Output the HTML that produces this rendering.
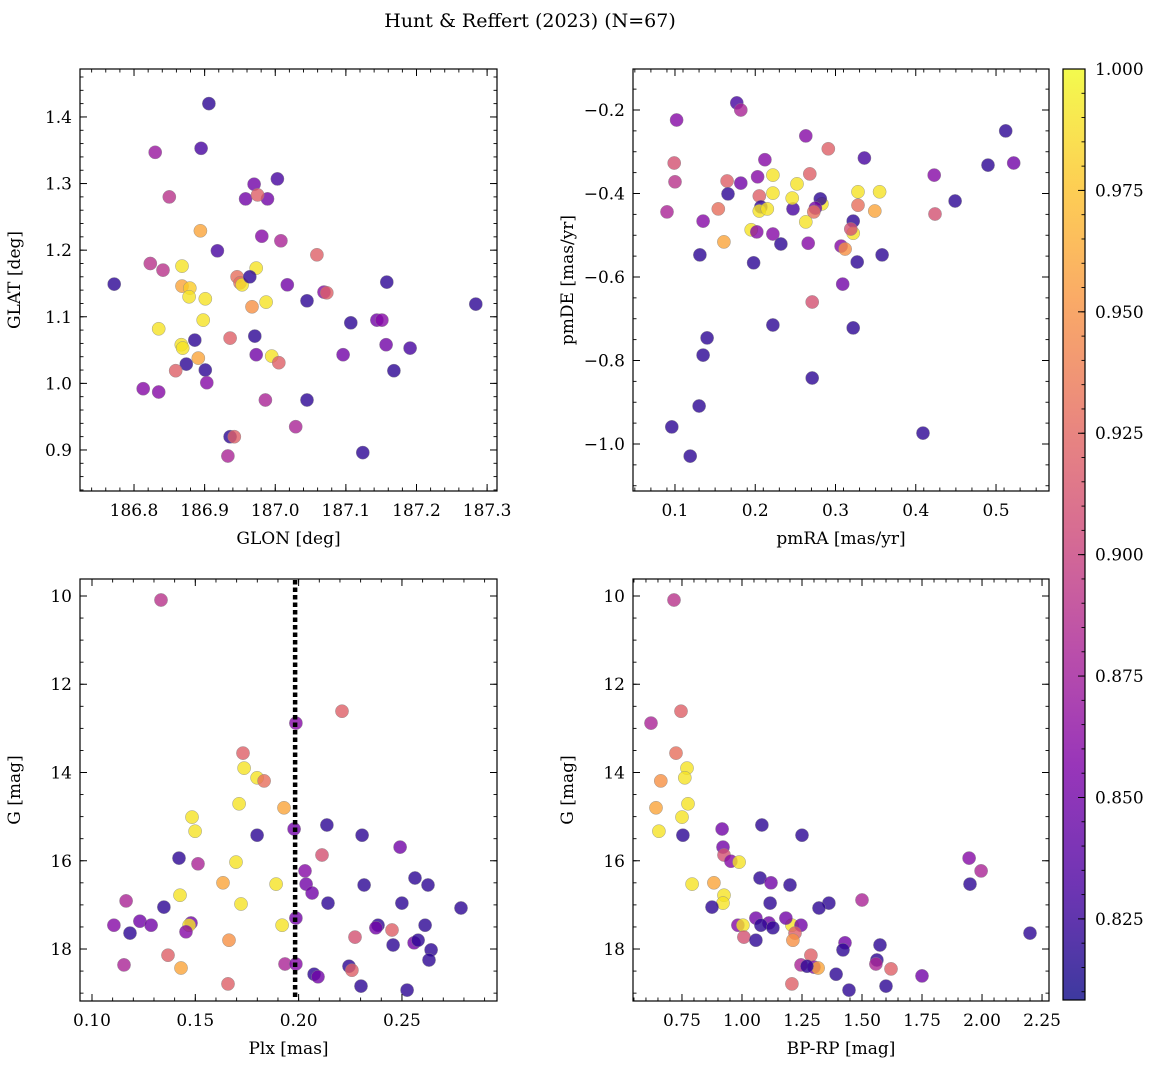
<!DOCTYPE html>
<html><head><meta charset="utf-8"><style>
body{margin:0;background:#fff;}
svg{display:block;font-family:"DejaVu Serif","Liberation Serif",serif;}
</style></head><body>
<svg id="fig" width="1160" height="1068" viewBox="0 0 1160 1068" xmlns="http://www.w3.org/2000/svg">
<text x="530" y="27" font-size="19" text-anchor="middle">Hunt &amp; Reffert (2023) (N=67)</text>
</svg>
<script>
// ---- Data: panel 1 (GLON, GLAT, prob)
const glon=[186.772,186.830,186.850,186.906,186.895,187.003,186.970,186.958,186.989,186.975,186.981,187.008,186.918,186.894,186.823,186.841,186.868,187.059,186.868,186.879,186.878,186.901,186.946,186.950,186.953,186.973,186.964,186.987,186.967,187.017,187.069,187.073,187.045,187.158,187.284,187.107,187.144,187.151,186.835,186.898,186.971,186.936,186.886,186.867,186.869,187.157,187.191,186.973,187.096,186.891,186.995,187.005,186.874,186.859,186.901,187.168,186.813,186.835,186.903,186.986,187.045,186.936,186.942,187.029,186.933,187.124];
const glat=[1.149,1.347,1.280,1.420,1.353,1.307,1.299,1.277,1.277,1.283,1.221,1.214,1.199,1.229,1.180,1.170,1.176,1.193,1.146,1.143,1.130,1.127,1.160,1.151,1.148,1.173,1.160,1.122,1.115,1.148,1.137,1.136,1.124,1.152,1.119,1.091,1.095,1.095,1.082,1.095,1.071,1.068,1.065,1.058,1.053,1.058,1.053,1.043,1.043,1.038,1.041,1.031,1.029,1.019,1.020,1.019,0.992,0.987,1.001,0.975,0.975,0.920,0.920,0.935,0.891,0.896];
const prob1=[.82,.87,.89,.82,.83,.83,.85,.85,.85,.92,.86,.88,.83,.96,.89,.89,.99,.92,.96,.98,.99,.99,.93,.93,.99,.99,.82,.99,.95,.85,.86,.92,.82,.82,.82,.82,.85,.86,.99,.99,.82,.92,.82,.99,.99,.85,.83,.85,.85,.96,.99,.92,.82,.92,.82,.82,.86,.86,.86,.88,.82,.82,.92,.88,.88,.82];
// ---- panel 2 (pmRA, pmDE, prob)
const pmra=[0.102,0.099,0.100,0.090,0.177,0.182,0.263,0.212,0.336,0.291,0.268,0.222,0.182,0.203,0.165,0.252,0.423,0.512,0.522,0.490,0.449,0.424,0.328,0.355,0.328,0.349,0.283,0.281,0.275,0.273,0.247,0.246,0.222,0.205,0.207,0.205,0.215,0.166,0.154,0.135,0.195,0.202,0.222,0.232,0.161,0.266,0.263,0.322,0.322,0.319,0.307,0.312,0.327,0.358,0.131,0.198,0.309,0.271,0.222,0.322,0.140,0.135,0.271,0.130,0.096,0.409,0.119];
const pmde=[-0.224,-0.327,-0.372,-0.444,-0.183,-0.200,-0.262,-0.319,-0.315,-0.293,-0.353,-0.356,-0.375,-0.360,-0.370,-0.377,-0.356,-0.250,-0.327,-0.332,-0.418,-0.449,-0.396,-0.396,-0.428,-0.442,-0.425,-0.413,-0.435,-0.444,-0.437,-0.411,-0.399,-0.406,-0.432,-0.442,-0.437,-0.401,-0.437,-0.466,-0.487,-0.492,-0.497,-0.521,-0.516,-0.519,-0.468,-0.466,-0.495,-0.485,-0.526,-0.533,-0.564,-0.547,-0.547,-0.566,-0.617,-0.660,-0.715,-0.722,-0.746,-0.787,-0.842,-0.909,-0.959,-0.974,-1.029];
const prob2=[.86,.91,.89,.88,.83,.88,.86,.86,.83,.92,.92,.99,.85,.86,.92,.99,.86,.82,.85,.82,.82,.91,.99,.99,.93,.96,.99,.82,.85,.93,.83,.99,.99,.92,.82,.99,.99,.82,.93,.86,.99,.86,.86,.82,.96,.86,.99,.82,.99,.91,.86,.95,.82,.82,.82,.82,.85,.91,.82,.82,.82,.82,.82,.82,.82,.82,.82];
// ---- panel 3 (Plx, G, prob)
const plx=[0.1334,0.1987,0.2210,0.1731,0.1736,0.1799,0.1833,0.1712,0.1929,0.1484,0.1499,0.1799,0.1978,0.2137,0.2307,0.2491,0.2113,0.1421,0.1513,0.1697,0.2031,0.2563,0.2626,0.2036,0.2317,0.1634,0.1891,0.2065,0.1165,0.2142,0.2500,0.2786,0.1348,0.1721,0.1426,0.1987,0.1479,0.1470,0.1106,0.1232,0.1286,0.1184,0.1455,0.1920,0.2384,0.2374,0.2612,0.2452,0.2273,0.1663,0.1368,0.2457,0.2559,0.2578,0.2641,0.2631,0.1155,0.1431,0.1934,0.1987,0.2244,0.2258,0.2075,0.2094,0.1658,0.2302,0.2525];
const gmag3=[10.09,12.88,12.61,13.56,13.90,14.12,14.19,14.71,14.80,15.01,15.33,15.42,15.28,15.19,15.42,15.69,15.87,15.94,16.07,16.03,16.23,16.39,16.55,16.53,16.55,16.50,16.53,16.73,16.91,16.96,16.96,17.07,17.05,16.98,16.78,17.30,17.41,17.46,17.46,17.37,17.46,17.64,17.61,17.46,17.46,17.52,17.46,17.57,17.73,17.80,18.14,17.91,17.86,17.80,18.02,18.25,18.36,18.43,18.34,18.34,18.39,18.48,18.57,18.63,18.79,18.84,18.93];
const prob3=[.89,.86,.92,.92,.99,.99,.93,.99,.96,.99,.99,.82,.85,.82,.82,.85,.91,.82,.88,.99,.86,.82,.82,.85,.82,.96,.99,.85,.88,.82,.82,.82,.82,.99,.99,.85,.85,.99,.86,.85,.85,.82,.86,.99,.82,.85,.82,.92,.91,.95,.92,.82,.85,.82,.82,.82,.88,.96,.88,.86,.82,.92,.82,.85,.92,.82,.82];
const plxCut=[0.1983];
// ---- panel 4 (BP-RP, G, prob)
const bprp=[0.717,0.621,0.746,0.725,0.771,0.762,0.662,0.775,0.642,0.75,0.654,0.754,0.917,1.083,1.25,0.921,0.925,0.954,0.988,1.946,1.996,1.075,1.121,1.2,1.95,0.883,0.792,0.925,0.921,0.875,1.117,1.362,1.5,1.321,2.2,1.058,1.112,0.983,1.004,1.208,1.183,1.079,1.129,1.246,1.221,1.008,1.212,1.058,1.429,1.575,1.421,1.287,1.562,1.558,1.246,1.3,1.317,1.621,1.271,1.392,1.75,1.208,1.6,1.446];
const gmag4=[10.09,12.88,12.61,13.56,13.90,14.12,14.19,14.71,14.80,15.01,15.33,15.42,15.28,15.19,15.42,15.69,15.87,16.01,16.03,15.94,16.23,16.39,16.50,16.55,16.53,16.50,16.53,16.78,16.96,17.05,16.96,16.96,16.89,17.07,17.64,17.30,17.41,17.46,17.46,17.46,17.30,17.46,17.52,17.46,17.64,17.73,17.80,17.80,17.86,17.91,18.02,18.14,18.25,18.34,18.36,18.41,18.43,18.45,18.39,18.57,18.61,18.79,18.84,18.93];
const prob4=[.89,.88,.92,.93,.99,.99,.95,.99,.96,.99,.99,.82,.85,.82,.82,.85,.91,.86,.99,.86,.88,.82,.85,.82,.82,.96,.99,.99,.99,.82,.82,.82,.88,.82,.82,.85,.85,.86,.99,.99,.85,.82,.82,.85,.92,.91,.95,.82,.85,.82,.82,.92,.82,.88,.88,.86,.96,.92,.82,.82,.85,.92,.82,.82];
const cbTicks=[0.825,0.850,0.875,0.900,0.925,0.950,0.975,1.000];
const cMin=0.8083, cMax=1.0;

const NS="http://www.w3.org/2000/svg";
const svg=document.getElementById('fig');
function mk(tag,attrs,parent){const e=document.createElementNS(NS,tag);for(const k in attrs)e.setAttribute(k,attrs[k]);(parent||svg).appendChild(e);return e;}
const stops=[[13,8,135],[76,2,161],[126,3,168],[169,35,149],[204,71,120],[229,107,93],[248,148,65],[253,195,40],[240,249,33]];
function plasma(t){t=Math.max(0,Math.min(1,t));const f=t*8,i=Math.min(7,Math.floor(f)),r=f-i;const a=stops[i],b=stops[i+1];return `rgb(${a.map((v,k)=>Math.round(v+(b[k]-v)*r)).join(',')})`;}
function cnorm(p){return (p-cMin)/(cMax-cMin);}
const FS=17;

function panel(name,box,xr,yr,xt,xmin,yt,ymin,xlab,ylab,xf,yf,xs,ys,ps){
  const [L,T,R,B]=box;
  const sx=v=>L+(v-xr[0])/(xr[1]-xr[0])*(R-L);
  const sy=v=>T+(v-yr[0])/(yr[1]-yr[0])*(B-T);
  const g=mk('g',{});
  
  
  const pts=mk('g',{},g);
  
  
  for(let i=0;i<xs.length;i++){
    const c=mk('circle',{cx:sx(xs[i]).toFixed(1),cy:sy(ys[i]).toFixed(1),r:6.6,fill:plasma(cnorm(ps[i])),'fill-opacity':0.8,stroke:'#888','stroke-width':0.4},pts);
    
    
  }
  mk('rect',{x:L,y:T,width:R-L,height:B-T,fill:'none',stroke:'#000','stroke-width':1.2},g);
  const inX=v=>v>=Math.min(...xr)-1e-9&&v<=Math.max(...xr)+1e-9;
  const inY=v=>v>=Math.min(...yr)-1e-9&&v<=Math.max(...yr)+1e-9;
  for(const v of xmin){if(!inX(v))continue;const x=sx(v);mk('line',{x1:x,x2:x,y1:B,y2:B-3.5,stroke:'#000','stroke-width':0.9},g);mk('line',{x1:x,x2:x,y1:T,y2:T+3.5,stroke:'#000','stroke-width':0.9},g);}
  for(const v of ymin){if(!inY(v))continue;const y=sy(v);mk('line',{x1:L,x2:L+3.5,y1:y,y2:y,stroke:'#000','stroke-width':0.9},g);mk('line',{x1:R,x2:R-3.5,y1:y,y2:y,stroke:'#000','stroke-width':0.9},g);}
  for(const v of xt){const x=sx(v);mk('line',{x1:x,x2:x,y1:B,y2:B-7,stroke:'#000','stroke-width':1},g);mk('line',{x1:x,x2:x,y1:T,y2:T+7,stroke:'#000','stroke-width':1},g);
    const t=mk('text',{x:x,y:B+25,'font-size':FS,'text-anchor':'middle'},g);t.textContent=xf(v);
    }
  for(const v of yt){const y=sy(v);mk('line',{x1:L,x2:L+7,y1:y,y2:y,stroke:'#000','stroke-width':1},g);mk('line',{x1:R,x2:R-7,y1:y,y2:y,stroke:'#000','stroke-width':1},g);
    const t=mk('text',{x:L-8,y:y+6,'font-size':FS,'text-anchor':'end'},g);t.textContent=yf(v);
    }
  const xl=mk('text',{x:(L+R)/2,y:B+53,'font-size':FS,'text-anchor':'middle'},g);xl.textContent=xlab;
  
  const yl=mk('text',{x:0,y:0,'font-size':FS,'text-anchor':'middle',transform:`translate(${L-60},${(T+B)/2}) rotate(-90)`},g);yl.textContent=ylab;
  
  return {sx,sy,g};
}
function rng(a,b,s){const o=[];for(let v=a;v<=b+s/2;v+=s)o.push(Math.round(v*1e6)/1e6);return o;}

panel('glon-glat',[80,69,497,491],[186.7235,187.314],[1.472,0.8384],rng(186.8,187.3,0.1),rng(186.72,187.32,0.02),rng(0.9,1.4,0.1),rng(0.84,1.48,0.02),'GLON [deg]','GLAT [deg]',v=>v.toFixed(1),v=>v.toFixed(1),glon,glat,prob1);
panel('pm',[633,69,1049,491],[0.0477,0.566],[-0.1018,-1.1126],rng(0.1,0.5,0.1),rng(0.05,0.57,0.02),rng(-1.0,-0.2,0.2),rng(-1.1,-0.1,0.05),'pmRA [mas/yr]','pmDE [mas/yr]',v=>v.toFixed(1),v=>v.toFixed(1).replace('-','\u2212'),pmra,pmde,prob2);
const p3=panel('plx-g',[80,579,497,1001],[0.0942,0.296],[9.615,19.178],rng(0.1,0.25,0.05),rng(0.1,0.29,0.01),rng(10,18,2),rng(10,19,0.5),'Plx [mas]','G [mag]',v=>v.toFixed(2),v=>String(v),plx,gmag3,prob3);
const cut=mk('line',{x1:p3.sx(plxCut[0]),x2:p3.sx(plxCut[0]),y1:580,y2:1000,stroke:'#000','stroke-width':4.5,'stroke-dasharray':'4.5,3'},p3.g);


panel('color-mag',[633,579,1049,1001],[0.546,2.279],[9.615,19.178],rng(0.75,2.25,0.25),rng(0.55,2.25,0.05),rng(10,18,2),rng(10,19,0.5),'BP-RP [mag]','G [mag]',v=>v.toFixed(2),v=>String(v),bprp,gmag4,prob4);

// colorbar
const cb=mk('g',{});


const CL=1063,CR=1085,CT=69,CB=1000;
const defs=mk('defs',{},cb);const lg=mk('linearGradient',{id:'cbg',x1:0,y1:1,x2:0,y2:0},defs);
for(let i=0;i<=16;i++)mk('stop',{offset:i/16,'stop-color':plasma(i/16),'stop-opacity':0.8},lg);
mk('rect',{x:CL,y:CT,width:CR-CL,height:CB-CT,fill:'url(#cbg)',stroke:'#000','stroke-width':1.2},cb);
const cy=v=>CB-(v-cMin)/(cMax-cMin)*(CB-CT);
for(const v of rng(0.81,1.0,0.005)){const y=cy(v);mk('line',{x1:CR,x2:CR-3.5,y1:y,y2:y,stroke:'#000','stroke-width':0.9},cb);}
for(const v of cbTicks){const y=cy(v);mk('line',{x1:CR,x2:CR-7,y1:y,y2:y,stroke:'#000'},cb);
  const t=mk('text',{x:CR+10,y:y+6,'font-size':FS},cb);t.textContent=v.toFixed(3);
  }
</script>
</body></html>
